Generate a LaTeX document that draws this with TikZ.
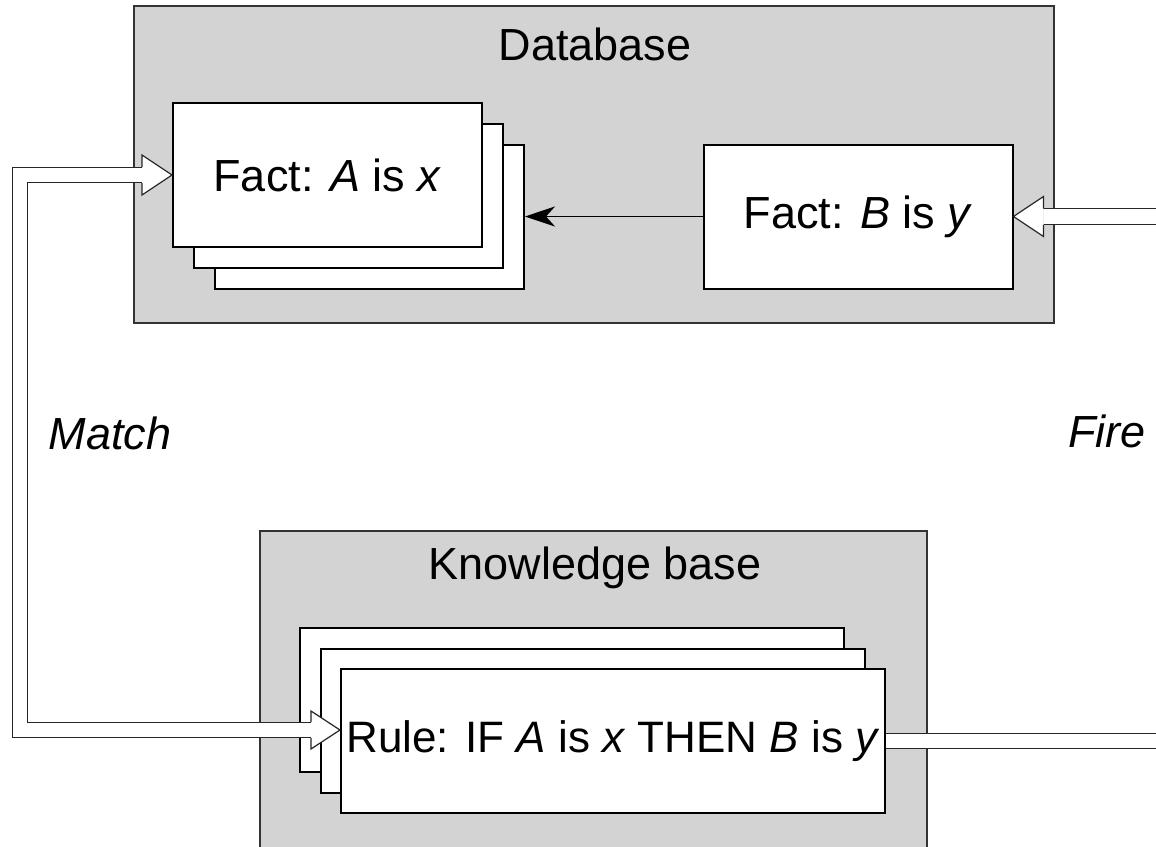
\documentclass[tikz,border=0pt]{standalone}
\usepackage{fontspec}
\setmainfont{Liberation Sans}
\usetikzlibrary{arrows.meta,calc}
\definecolor{boxgray}{RGB}{211,211,211}

\begin{document}
\begin{tikzpicture}[x=0.5pt, y=-0.5pt,
    container/.style={draw=black!80, line width=0.6pt, fill=boxgray},
    card/.style={draw, line width=1pt, fill=white, inner sep=0pt, minimum height=72pt, font=\fontsize{22.5}{27}\selectfont},
    factcard/.style={card, minimum width=154.5pt},
    rulecard/.style={card, minimum width=272pt},
    title/.style={font=\fontsize{22.5}{27}\selectfont},
    fat/.style={draw=black!85, line width=0.6pt, double=white, double distance=7.2pt},
    headline/.style={draw=black!85, line width=0.6pt, fill=white},
    arrow/.style={-{Stealth[length=15pt, width=10pt, inset=4.5pt]}, line width=0.6pt}
]
    \clip (0,0) rectangle (1156,846);

    % Containers
    \node[container, minimum width=460pt, minimum height=158.5pt] (db) at (594,164.5) {};
    \node[title] (dbtitle) at (595,44) {Database};
    \node[container, minimum width=333.5pt, minimum height=170pt] (kb) at (593.5,701) {};
    \node[title] (kbtitle) at (595,568) {Knowledge base};

    % Fact cards
    \node[factcard] (factA3) at (369.5,216.5) {};
    \node[factcard] (factA2) at (348.5,195.5) {};
    \node[factcard] (factA) at (327.5,175) {Fact: \textit{A} is \textit{x}};
    \node[factcard] (factB) at (858,216.5) {Fact: \textit{B} is \textit{y}};

    % Rule cards
    \node[rulecard] (rule3) at (572,700) {};
    \node[rulecard] (rule2) at (592.5,720.5) {};
    \node[rulecard, font=\fontsize{22}{27}\selectfont] (rule) at (613,741) {Rule: IF \textit{A} is \textit{x} THEN \textit{B} is \textit{y}};

    % Arrows
    \draw[arrow] (factB.west) -- (factA3.east);

    \draw[fat] ($(factB.east)+(30,0)$) -- ++(140,0);
    \filldraw[headline] ($(factB.east)+(30,-8)$) -- ++(0,-12) -- (factB.east) -- ++(30,20) -- ++(0,-12);

    \draw[fat] ($(factA.west)+(-30,0)$) -- ++(-122,0) |- ($(rule.west)+(-29,-11)$);
    \filldraw[headline] ($(factA.west)+(-30,-8)$) -- ++(0,-12) -- (factA.west) -- ++(-30,20) -- ++(0,-12);
    \coordinate (ruletip) at ($(rule.west)+(0,-11)$);
    \filldraw[headline] ($(ruletip)+(-29,-8)$) -- ++(0,-11) -- (ruletip) -- ++(-29,19) -- ++(0,-11);

    \draw[fat] (rule.east) -- ++(290,0);

    % Labels
    \node[title, font=\fontsize{22.5}{27}\selectfont\itshape] (match) at (110,433) {Match};
    \node[title, font=\fontsize{22.5}{27}\selectfont\itshape] (fire) at (1107,431) {Fire};
\end{tikzpicture}
\end{document}
